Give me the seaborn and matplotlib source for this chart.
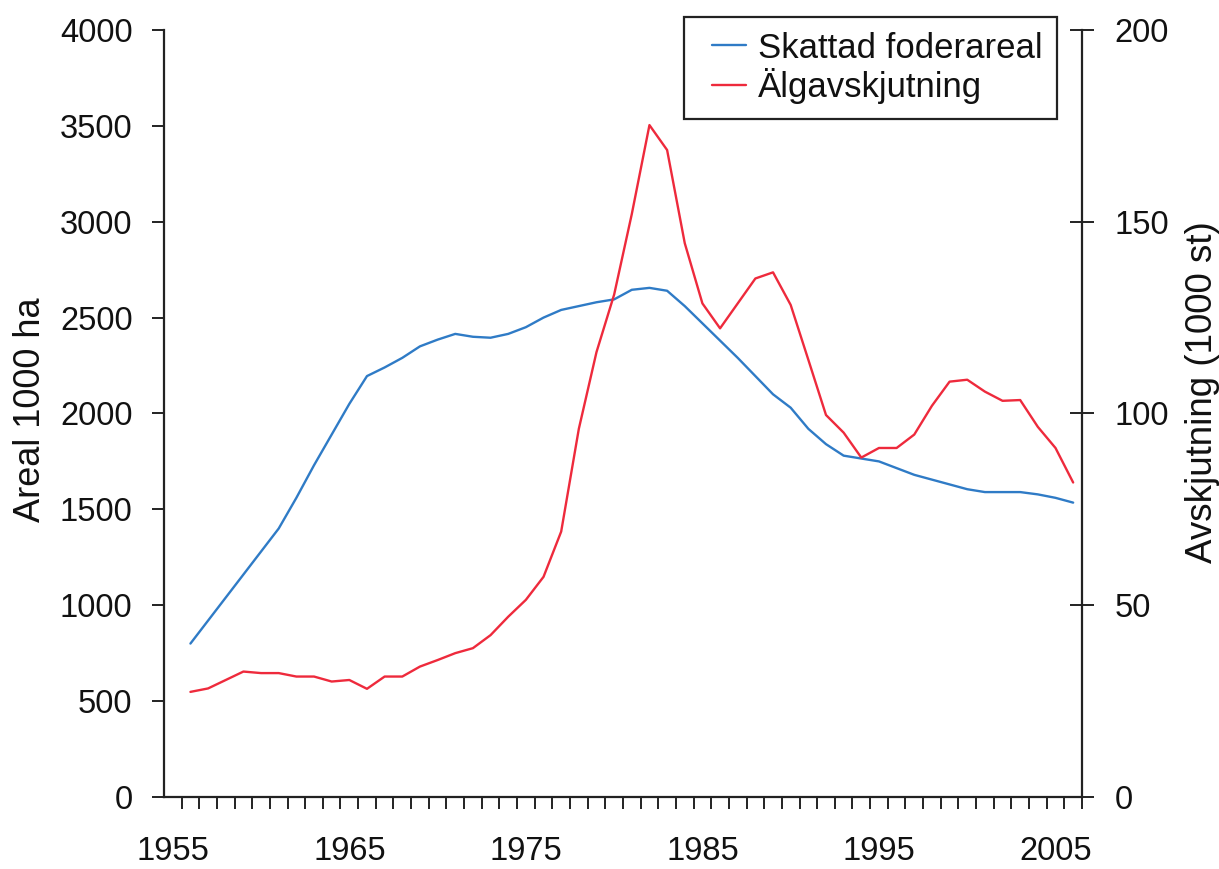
import seaborn as sns
import pandas as pd
import matplotlib.pyplot as plt
from matplotlib.ticker import FixedLocator, MultipleLocator
from matplotlib.legend_handler import HandlerLine2D
from matplotlib.lines import Line2D

years = list(range(1956, 2007))

# Skattad foderareal, 1000 ha (left axis)
foderareal = [800, 920, 1040, 1160, 1280, 1400, 1560, 1730, 1890, 2050,
              2195, 2240, 2290, 2350, 2385, 2415, 2400, 2395, 2415, 2450,
              2500, 2540, 2560, 2580, 2595, 2645, 2655, 2640, 2560, 2470,
              2380, 2290, 2195, 2100, 2030, 1920, 1840, 1780, 1765, 1750,
              1715, 1680, 1655, 1630, 1605, 1590, 1590, 1590, 1578, 1560,
              1535]

# Älgavskjutning, 1000 st (right axis)
avskjutning = [27.4, 28.3, 30.5, 32.7, 32.3, 32.3, 31.4, 31.4, 30.1, 30.5,
               28.2, 31.4, 31.4, 34.0, 35.7, 37.5, 38.8, 42.2, 47.0, 51.4,
               57.4, 69.2, 96.0, 116.0, 131.0, 152.0, 175.2, 168.7, 144.4, 128.7,
               122.2, 128.7, 135.2, 136.8, 128.3, 114.0, 99.6, 95.0, 88.5, 91.0,
               91.0, 94.5, 102.0, 108.3, 108.8, 105.7, 103.3, 103.5, 96.5, 91.0,
               82.0]

xlabels = [1955, 1965, 1975, 1985, 1995, 2005]

df = pd.DataFrame({'year': years, 'areal': foderareal, 'skott': avskjutning})

sns.set_style('white')
plt.rcParams['font.family'] = ['Liberation Sans', 'DejaVu Sans']
txt_c = '#111111'
plt.rcParams['text.color'] = txt_c
plt.rcParams['axes.labelcolor'] = txt_c

fig = plt.figure(figsize=(12.19, 8.69), dpi=100)
ax = fig.add_axes([0.1345, 0.0829, 0.7531, 0.8826])
ax2 = ax.twinx()

blue = '#2f7bc6'
red = '#ee2a3c'
sns.lineplot(data=df, x='year', y='areal', ax=ax, color=blue, linewidth=1.7,
             label='Skattad foderareal', legend=False)
sns.lineplot(data=df, x='year', y='skott', ax=ax2, color=red, linewidth=1.7,
             label='Älgavskjutning', legend=False)

ax.set_xlim(1954.5, 2006.5)
ax.set_ylim(0, 4000)
ax2.set_ylim(0, 200)

ax.xaxis.set_major_locator(FixedLocator(xlabels))
ax.xaxis.set_minor_locator(FixedLocator([1954.5 + k for k in range(1, 53)]))
ax.yaxis.set_major_locator(MultipleLocator(500))
ax2.yaxis.set_major_locator(MultipleLocator(50))

spine_c = '#222222'
for a in (ax, ax2):
    for s in a.spines.values():
        s.set_color(spine_c)
        s.set_linewidth(1.6)
    a.spines['top'].set_visible(False)
ax.spines['right'].set_visible(False)
ax2.spines['left'].set_visible(False)
ax2.spines['bottom'].set_visible(False)

ax.tick_params(axis='x', which='major', length=0, pad=28, labelsize=23.5,
               labelcolor=txt_c)
ax.tick_params(axis='x', which='minor', direction='out', length=8.6,
               width=1.4, color=spine_c, bottom=True)
ax.tick_params(axis='y', direction='out', length=8.6, width=1.4,
               color=spine_c, pad=14, labelsize=23.5, left=True,
               labelcolor=txt_c)
ax2.tick_params(axis='y', direction='inout', length=17, width=1.4,
                color=spine_c, pad=15, labelsize=23.5, right=True,
                labelcolor=txt_c)

ax.set_xlabel('')
ax.set_ylabel('Areal 1000 ha', fontsize=26)
ax2.set_ylabel('Avskjutning (1000 st)', fontsize=26.5)
ax.yaxis.set_label_coords(-0.126, 0.505)
ax2.yaxis.set_label_coords(1.112, 0.528)

h1, l1 = ax.get_legend_handles_labels()
h2, l2 = ax2.get_legend_handles_labels()
leg = ax2.legend(h1 + h2, l1 + l2, loc='upper right',
                 bbox_to_anchor=(0.973, 1.017), borderaxespad=0,
                 fontsize=25, handlelength=1.37, handletextpad=0.35,
                 labelspacing=0.1, borderpad=0.42, fancybox=False,
                 framealpha=1, edgecolor='#222222',
                 handler_map={Line2D: HandlerLine2D(xpad=0.4)})
leg.get_frame().set_linewidth(1.6)

fig.savefig('out.png', dpi=100)
